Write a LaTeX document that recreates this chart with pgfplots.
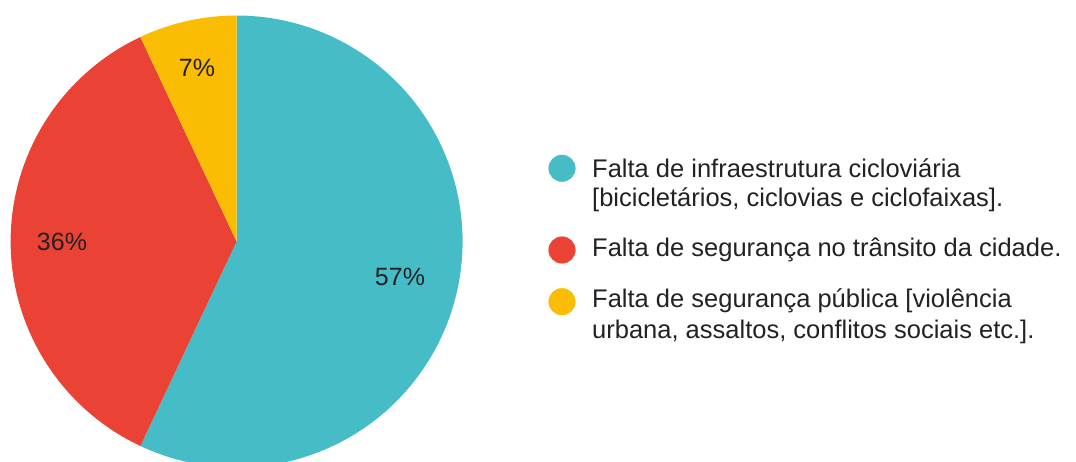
\documentclass[border=0pt]{standalone}
\usepackage{pgfplots}
\pgfplotsset{compat=1.18}
\usepackage{pgfplotstable}
\usepackage{fontspec}
\setmainfont{Liberation Sans}
\definecolor{cTeal}{HTML}{46BDC6}
\definecolor{cRed}{HTML}{EA4335}
\definecolor{cYel}{HTML}{FBBC04}
\definecolor{cTxt}{HTML}{222222}

\pgfplotstableread{
idx value
0 57
1 36
2 7
}\piedata

\begin{document}%
\begin{tikzpicture}
\pgfplotstablegetelem{0}{value}\of\piedata \let\vA\pgfplotsretval
\pgfplotstablegetelem{1}{value}\of\piedata \let\vB\pgfplotsretval
\pgfplotstablegetelem{2}{value}\of\piedata \let\vC\pgfplotsretval
\pgfmathsetmacro{\aA}{90}
\pgfmathsetmacro{\aB}{90-3.6*\vA}
\pgfmathsetmacro{\aC}{\aB-3.6*\vB}
\pgfmathsetmacro{\aD}{\aC-3.6*\vC}
\def\cx{236.6}\def\cy{219.5}\def\rr{226}
\begin{axis}[width=1076pt, height=461pt, scale only axis,
  xmin=0, xmax=1076, ymin=0, ymax=461, hide axis, clip=true]
\coordinate (ll) at (rel axis cs:0,0);
\coordinate (ur) at (rel axis cs:1,1);
\addplot[fill=cTeal, draw=none, domain=\aB:\aA, samples=150, variable=\t]
  ({\cx+\rr*cos(\t)},{\cy+\rr*sin(\t)}) -- (axis cs:\cx,\cy) -- cycle;
\addplot[fill=cRed, draw=none, domain=\aC:\aB, samples=120, variable=\t]
  ({\cx+\rr*cos(\t)},{\cy+\rr*sin(\t)}) -- (axis cs:\cx,\cy) -- cycle;
\addplot[fill=cYel, draw=none, domain=\aD:\aC, samples=40, variable=\t]
  ({\cx+\rr*cos(\t)},{\cy+\rr*sin(\t)}) -- (axis cs:\cx,\cy) -- cycle;
% slice labels
\node[anchor=center, inner sep=0, text=cTxt, font=\fontsize{25}{30}\selectfont] at (axis cs:400,184) {57\%};
\node[anchor=center, inner sep=0, text=cTxt, font=\fontsize{25}{30}\selectfont] at (axis cs:62,219) {36\%};
\node[anchor=center, inner sep=0, text=cTxt, font=\fontsize{25}{30}\selectfont] at (axis cs:197,393) {7\%};
% legend markers
\addplot[only marks, mark=*, mark size=13.3pt, color=cTeal] coordinates {(562,292.7)};
\addplot[only marks, mark=*, mark size=13.3pt, color=cRed] coordinates {(562,211)};
\addplot[only marks, mark=*, mark size=13.3pt, color=cYel] coordinates {(562,159.3)};
% legend text
\node[anchor=base west, inner sep=0, text=cTxt, font=\fontsize{25.5}{30}\selectfont] at (axis cs:592,283.7) {Falta de infraestrutura cicloviária};
\node[anchor=base west, inner sep=0, text=cTxt, font=\fontsize{25.5}{30}\selectfont] at (axis cs:592,254) {[bicicletários, ciclovias e ciclofaixas].};
\node[anchor=base west, inner sep=0, text=cTxt, font=\fontsize{25.5}{30}\selectfont] at (axis cs:592,204.3) {Falta de segurança no trânsito da cidade.};
\node[anchor=base west, inner sep=0, text=cTxt, font=\fontsize{25.5}{30}\selectfont] at (axis cs:592,153) {Falta de segurança pública [violência};
\node[anchor=base west, inner sep=0, text=cTxt, font=\fontsize{25.5}{30}\selectfont] at (axis cs:592,122) {urbana, assaltos, conflitos sociais etc.].};
\end{axis}
\pgfresetboundingbox
\path (ll) rectangle (ur);
\end{tikzpicture}%
\end{document}
